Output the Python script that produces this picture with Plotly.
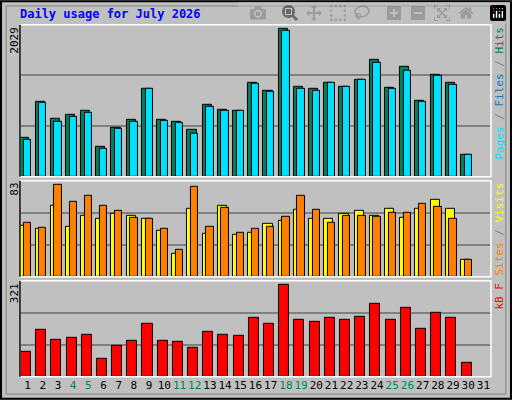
import plotly.graph_objects as go

days = [str(d) for d in range(1, 32)]
weekend = {4, 5, 11, 12, 18, 19, 25, 26}

hits = [542, 1037, 803, 858, 913, 418, 679, 789, 1216, 789, 762, 652, 996, 927, 913,
        1299, 1189, 2029, 1244, 1216, 1299, 1244, 1340, 1602, 1230, 1506, 1051, 1409, 1299, 308]
files = [514, 1024, 762, 831, 886, 390, 666, 762, 1216, 776, 748, 597, 969, 913, 913,
         1285, 1175, 2001, 1216, 1189, 1299, 1244, 1327, 1574, 1216, 1464, 1037, 1395, 1271, 308]
visits = [46, 43, 64, 45, 55, 52, 57, 55, 52, 41, 21, 61, 39, 64, 38,
          40, 48, 50, 60, 52, 52, 57, 59, 55, 61, 53, 61, 69, 61, 15]
sites = [49, 44, 83, 67, 73, 64, 59, 53, 52, 43, 24, 81, 45, 62, 40,
         43, 45, 54, 73, 60, 49, 55, 55, 54, 58, 58, 66, 63, 52, 15]
kbytes = [86, 163, 128, 135, 145, 64, 107, 124, 184, 124, 121, 100, 156, 145, 142,
          205, 184, 321, 198, 191, 205, 198, 209, 254, 198, 240, 166, 223, 205, 50]

x = list(range(1, len(hits) + 1))
LINE = dict(color="black", width=1)
MONO = "DejaVu Sans Mono"

fig = go.Figure()
fig.add_bar(x=x, y=hits, width=0.6, offset=-0.48, marker=dict(color="#007f5f", line=LINE), yaxis="y3")
fig.add_bar(x=x, y=files, width=0.48, offset=-0.24, marker=dict(color="#00e0ff", line=LINE), yaxis="y3")
fig.add_bar(x=x, y=visits, width=0.6, offset=-0.48, marker=dict(color="#ffff00", line=LINE), xaxis="x2", yaxis="y2")
fig.add_bar(x=x, y=sites, width=0.48, offset=-0.24, marker=dict(color="#ff8000", line=LINE), xaxis="x2", yaxis="y2")
fig.add_bar(x=x, y=kbytes, width=0.66, offset=-0.44, marker=dict(color="#ff0000", line=LINE), xaxis="x3", yaxis="y")

r1, r2, r3 = max(hits) * 1.03, max(sites) * 1.04, max(kbytes) * 1.04
grid = dict(showgrid=True, gridcolor="#808080", gridwidth=1.5, showticklabels=False,
            zeroline=False, fixedrange=True)
xax = dict(range=[0.5, 31.5], showgrid=False, zeroline=False, tickmode="array")

ticktext = [f"<span style='color:{'#00805c' if int(d) in weekend else 'black'}'>{d}</span>" for d in days]

fig.update_layout(
    width=512, height=400, margin=dict(l=0, r=0, t=0, b=0),
    paper_bgcolor="#c0c0c0", plot_bgcolor="#c0c0c0",
    showlegend=False, barmode="overlay", bargap=0,
    font=dict(family=MONO, size=11, color="black"),
    xaxis=dict(xax, domain=[0.039, 0.959], anchor="y", tickvals=list(range(1, 32)), ticktext=ticktext,
               ticks="", tickangle=0, automargin=False, tickfont=dict(size=11)),
    xaxis2=dict(xax, domain=[0.039, 0.959], anchor="y2", showticklabels=False),
    xaxis3=dict(xax, domain=[0.039, 0.959], anchor="y3", showticklabels=False),
    yaxis=dict(grid, domain=[0.058, 0.298], range=[0, r3], tickvals=[r3 / 3, 2 * r3 / 3]),
    yaxis2=dict(grid, domain=[0.308, 0.548], range=[0, r2], tickvals=[r2 / 3, 2 * r2 / 3]),
    yaxis3=dict(grid, domain=[0.558, 0.938], range=[0, r1], tickvals=[r1 / 3, 2 * r1 / 3]),
    title=dict(text="<b>Daily usage for July 2026</b>", x=0.039, y=0.975, xanchor="left",
               font=dict(family=MONO, size=12, color="#0000ff")),
)

# panel frames and outer border
for y0, y1 in [(0.558, 0.938), (0.308, 0.548), (0.058, 0.298)]:
    fig.add_shape(type="rect", xref="paper", yref="paper", x0=0.039, x1=0.959, y0=y0, y1=y1,
                  line=dict(color="white", width=1.5))
    fig.add_shape(type="line", xref="paper", yref="paper", x0=0.039, x1=0.039, y0=y0, y1=y1,
                  line=dict(color="black", width=1.5))
fig.add_shape(type="rect", xref="paper", yref="paper", x0=0.002, x1=0.998, y0=0.003, y1=0.997,
              line=dict(color="black", width=2))
fig.add_shape(type="rect", xref="paper", yref="paper", x0=0.012, x1=0.988, y0=0.015, y1=0.985,
              line=dict(color="#808080", width=1))

for val, ytop in [(max(hits), 0.938), (max(sites), 0.548), (max(kbytes), 0.298)]:
    fig.add_annotation(text=str(val), xref="paper", yref="paper", x=0.028, y=ytop,
                       xanchor="center", yanchor="top", textangle=-90, showarrow=False,
                       font=dict(family=MONO, size=11))

right = [
    ("<span style='color:#00e0ff'>Pages</span><span style='color:#808080'> / </span>"
     "<span style='color:#0080c0'>Files</span><span style='color:#808080'> / </span>"
     "<span style='color:#007f5f'>Hits</span>", 0.938),
    ("<span style='color:#ff8000'>Sites</span><span style='color:#808080'> / </span>"
     "<span style='color:#ffff00'>Visits</span>", 0.548),
    ("<span style='color:#ff0000'>kB F</span>", 0.298),
]
for txt, ytop in right:
    fig.add_annotation(text=txt, xref="paper", yref="paper", x=0.975, y=ytop,
                       xanchor="center", yanchor="top", textangle=-90, showarrow=False,
                       font=dict(family=MONO, size=11))

fig.write_html("out.html",
               post_script="document.body.style.margin='0';document.body.style.overflow='hidden';")
